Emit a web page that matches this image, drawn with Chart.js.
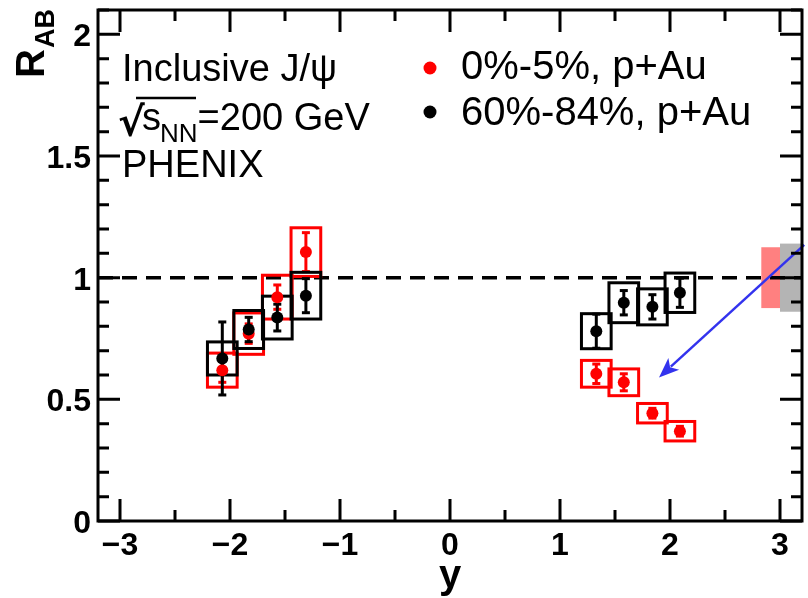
<!DOCTYPE html>
<html>
<head>
<meta charset="utf-8">
<script src="https://cdn.jsdelivr.net/npm/chart.js@4/dist/chart.umd.min.js"></script>
<style>
  html, body { margin: 0; padding: 0; background: #fff; }
  canvas { display: block; }
</style>
</head>
<body>
<canvas id="c" width="808" height="598"></canvas>
<script>
// Rapidity bins (same for both centrality classes)
const rapidity = [-2.07, -1.83, -1.57, -1.31, 1.33, 1.58, 1.84, 2.09];

// 0%-5% central p+Au
const rCentral = [0.62, 0.77, 0.92, 1.105, 0.605, 0.57, 0.443, 0.369];
const rCentralStat = [0.05, 0.04, 0.05, 0.08, 0.04, 0.035, 0.02, 0.02];
const rCentralSys = [0.07, 0.085, 0.09, 0.10, 0.055, 0.055, 0.04, 0.04];

// 60%-84% peripheral p+Au
const rPeripheral = [0.668, 0.787, 0.836, 0.926, 0.78, 0.897, 0.88, 0.938];
const rPeripheralStat = [0.15, 0.05, 0.055, 0.07, 0.07, 0.05, 0.05, 0.06];
const rPeripheralSys = [0.068, 0.078, 0.088, 0.096, 0.072, 0.082, 0.074, 0.081];

// Global normalisation uncertainties around unity
const globalCentral = 0.125;
const globalPeripheral = 0.14;

// Axis ticks
const xMajorTicks = [-3, -2, -1, 0, 1, 2, 3];
const xTickLabels = ['\u22123', '\u22122', '\u22121', '0', '1', '2', '3'];
const yMajorTicks = [0, 0.5, 1, 1.5, 2];
const yTickLabels = ['0', '0.5', '1', '1.5', '2'];

// Arrow annotation (data units): tail, head
const arrowFrom = [3.22, 1.135];
const arrowTo = [1.90, 0.59];

const RED = '#ff0000';
const BLACK = '#000000';
const SYS_HALF_WIDTH = 0.135;
const FONT = '"Liberation Sans", Arial, sans-serif';

function toPoints(xs, ys) { return xs.map((x, i) => ({ x: x, y: ys[i] })); }

const physicsPlugin = {
  id: 'physics',
  beforeDatasetsDraw(chart) {
    const ctx = chart.ctx, xs = chart.scales.x, ys = chart.scales.y, a = chart.chartArea;
    ctx.save();
    // global uncertainty boxes at the right edge
    ctx.fillStyle = '#ff8080';
    const gx0 = xs.getPixelForValue(2.83), gx1 = xs.getPixelForValue(3.0), gx2 = xs.getPixelForValue(3.2);
    ctx.fillRect(gx0, ys.getPixelForValue(1 + globalCentral), gx1 - gx0, ys.getPixelForValue(1 - globalCentral) - ys.getPixelForValue(1 + globalCentral));
    ctx.fillStyle = '#b4b4b4';
    ctx.fillRect(gx1, ys.getPixelForValue(1 + globalPeripheral), gx2 - gx1, ys.getPixelForValue(1 - globalPeripheral) - ys.getPixelForValue(1 + globalPeripheral));

    // unity reference line
    ctx.strokeStyle = BLACK;
    ctx.lineWidth = 3.5;
    ctx.setLineDash([15, 9]);
    ctx.beginPath();
    ctx.moveTo(a.left, ys.getPixelForValue(1));
    ctx.lineTo(a.right, ys.getPixelForValue(1));
    ctx.stroke();
    ctx.setLineDash([]);

    // systematic boxes and statistical bars
    const series = [
      [rCentral, rCentralStat, rCentralSys, RED],
      [rPeripheral, rPeripheralStat, rPeripheralSys, BLACK]
    ];
    series.forEach(([vals, stat, sys, col]) => {
      ctx.strokeStyle = col;
      ctx.fillStyle = col;
      ctx.lineWidth = 3;
      rapidity.forEach((xv, i) => {
        const l = xs.getPixelForValue(xv - SYS_HALF_WIDTH), r = xs.getPixelForValue(xv + SYS_HALF_WIDTH);
        const t = ys.getPixelForValue(vals[i] + sys[i]), b = ys.getPixelForValue(vals[i] - sys[i]);
        ctx.strokeRect(l, t, r - l, b - t);
      });
      rapidity.forEach((xv, i) => {
        const px = xs.getPixelForValue(xv);
        const t = ys.getPixelForValue(vals[i] + stat[i]), b = ys.getPixelForValue(vals[i] - stat[i]);
        ctx.beginPath();
        ctx.moveTo(px, t);
        ctx.lineTo(px, b);
        ctx.stroke();
        ctx.fillRect(px - 4, t - 1.5, 8, 3);
        ctx.fillRect(px - 4, b - 1.5, 8, 3);
      });
    });
    ctx.restore();
  },
  afterDatasetsDraw(chart) {
    const ctx = chart.ctx, xs = chart.scales.x, ys = chart.scales.y, a = chart.chartArea;
    ctx.save();

    // arrow
    const x0 = xs.getPixelForValue(arrowFrom[0]), y0 = ys.getPixelForValue(arrowFrom[1]);
    const x1 = xs.getPixelForValue(arrowTo[0]), y1 = ys.getPixelForValue(arrowTo[1]);
    const ang = Math.atan2(y1 - y0, x1 - x0);
    const hl = 20, hw = 8;
    ctx.strokeStyle = '#3333ee';
    ctx.fillStyle = '#3333ee';
    ctx.lineWidth = 2.5;
    ctx.beginPath();
    ctx.moveTo(x0, y0);
    ctx.lineTo(x1 - Math.cos(ang) * hl * 0.8, y1 - Math.sin(ang) * hl * 0.8);
    ctx.stroke();
    ctx.beginPath();
    ctx.moveTo(x1, y1);
    ctx.lineTo(x1 - Math.cos(ang) * hl - Math.sin(ang) * hw, y1 - Math.sin(ang) * hl + Math.cos(ang) * hw);
    ctx.lineTo(x1 - Math.cos(ang) * hl * 0.75, y1 - Math.sin(ang) * hl * 0.75);
    ctx.lineTo(x1 - Math.cos(ang) * hl + Math.sin(ang) * hw, y1 - Math.sin(ang) * hl - Math.cos(ang) * hw);
    ctx.closePath();
    ctx.fill();

    // frame
    ctx.strokeStyle = BLACK;
    ctx.lineWidth = 3;
    ctx.strokeRect(a.left, a.top, a.right - a.left, a.bottom - a.top);

    // y ticks (both sides)
    for (let k = 0; k <= 21; k++) {
      const py = ys.getPixelForValue(k / 10);
      const len = k % 5 === 0 ? 22 : 11;
      ctx.beginPath();
      ctx.moveTo(a.left, py); ctx.lineTo(a.left + len, py);
      ctx.moveTo(a.right, py); ctx.lineTo(a.right - len, py);
      ctx.stroke();
    }
    // x ticks (bottom and top)
    for (let k = -6; k <= 6; k++) {
      const px = xs.getPixelForValue(k / 2);
      const len = k % 2 === 0 ? 22 : 11;
      ctx.beginPath();
      ctx.moveTo(px, a.bottom); ctx.lineTo(px, a.bottom - len);
      ctx.moveTo(px, a.top); ctx.lineTo(px, a.top + len);
      ctx.stroke();
    }

    // tick labels
    ctx.fillStyle = BLACK;
    ctx.font = 'bold 32px ' + FONT;
    ctx.textAlign = 'right';
    ctx.textBaseline = 'alphabetic';
    yMajorTicks.forEach((v, i) => {
      ctx.fillText(yTickLabels[i], a.left - 7, ys.getPixelForValue(v) + 12);
    });
    ctx.textAlign = 'center';
    xMajorTicks.forEach((v, i) => {
      ctx.fillText(xTickLabels[i], xs.getPixelForValue(v), a.bottom + 34);
    });

    // axis titles
    ctx.font = 'bold 40px ' + FONT;
    ctx.fillText('y', xs.getPixelForValue(0), 588);
    ctx.save();
    ctx.translate(44, 78);
    ctx.rotate(-Math.PI / 2);
    ctx.textAlign = 'left';
    ctx.fillText('R', 0, 0);
    const rw = ctx.measureText('R').width;
    ctx.font = 'bold 27px ' + FONT;
    ctx.fillText('AB', rw + 1, 10);
    ctx.restore();

    // label block
    ctx.textAlign = 'left';
    ctx.font = '38px ' + FONT;
    ctx.fillText('Inclusive J/\u03c8', 122, 81);
    ctx.fillText('PHENIX', 122, 177);
    // sqrt(s_NN)=200 GeV
    ctx.font = 'bold 40px "DejaVu Sans", sans-serif';
    ctx.fillText('\u221a', 118, 136);
    ctx.lineWidth = 2.5;
    ctx.beginPath();
    ctx.moveTo(136, 98); ctx.lineTo(196, 98);
    ctx.stroke();
    ctx.font = '38px ' + FONT;
    ctx.fillText('s', 142, 130);
    const sw = ctx.measureText('s').width;
    ctx.font = '26px ' + FONT;
    ctx.fillText('NN', 142 + sw - 1, 142);
    const nnw = ctx.measureText('NN').width;
    ctx.font = '38px ' + FONT;
    ctx.fillText('=200 GeV', 142 + sw + nnw - 1, 130);

    // legend
    ctx.fillStyle = RED;
    ctx.beginPath(); ctx.arc(430, 68, 6.5, 0, Math.PI * 2); ctx.fill();
    ctx.fillStyle = BLACK;
    ctx.beginPath(); ctx.arc(430, 112, 6.5, 0, Math.PI * 2); ctx.fill();
    ctx.font = '40px ' + FONT;
    ctx.fillText('0%-5%, p+Au', 461, 79);
    ctx.fillText('60%-84%, p+Au', 461, 125);

    ctx.restore();
  }
};

new Chart(document.getElementById('c'), {
  type: 'scatter',
  data: {
    datasets: [
      {
        label: '60%-84%, p+Au',
        data: toPoints(rapidity, rPeripheral),
        backgroundColor: BLACK,
        borderColor: BLACK,
        pointRadius: 6,
        borderWidth: 0,
        order: 0
      },
      {
        label: '0%-5%, p+Au',
        data: toPoints(rapidity, rCentral),
        backgroundColor: RED,
        borderColor: RED,
        pointRadius: 6,
        borderWidth: 0,
        order: 1
      }
    ]
  },
  options: {
    responsive: false,
    animation: false,
    devicePixelRatio: 1,
    layout: { padding: { left: 98, right: 2, top: 10, bottom: 77 } },
    scales: {
      x: { type: 'linear', min: -3.2, max: 3.2, display: false },
      y: { type: 'linear', min: 0, max: 2.1, display: false }
    },
    plugins: {
      legend: { display: false },
      tooltip: { enabled: false }
    }
  },
  plugins: [physicsPlugin]
});
</script>
</body>
</html>
